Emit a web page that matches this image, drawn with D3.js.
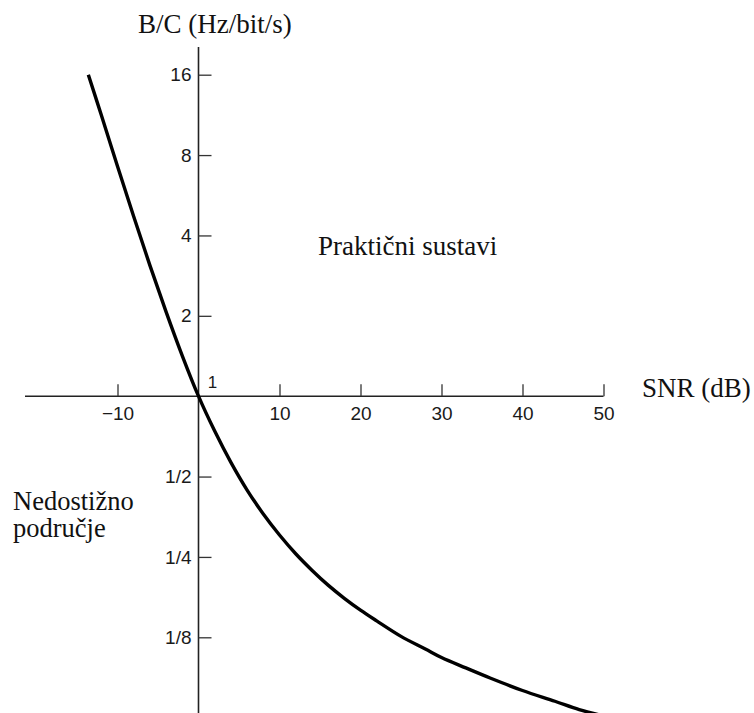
<!DOCTYPE html>
<html>
<head>
<meta charset="utf-8">
<script src="https://cdn.jsdelivr.net/npm/d3@7"></script>
<style>
  html, body { margin: 0; padding: 0; background: #fff; }
  svg { display: block; }
</style>
</head>
<body>
<svg id="chart" width="754" height="713"></svg>
<script>
// Data
const snrDb = [-13.6, -12, -10, -8, -6, -4, -2, 0, 2, 4, 6, 8, 10, 12, 14, 16, 18, 20, 22, 25, 28, 30, 33, 36, 40, 44, 47, 49.5];
const bandwidthRatio = [16, 11.3, 7.27, 4.71, 3.09, 2.07, 1.417, 1, 0.74, 0.565, 0.445, 0.362, 0.302, 0.257, 0.223, 0.196, 0.175, 0.158, 0.144, 0.126, 0.113, 0.105, 0.096, 0.088, 0.079, 0.072, 0.067, 0.064];
const xTicks = [-10, 10, 20, 30, 40, 50];
const yTicks = [1/8, 1/4, 1/2, 2, 4, 8, 16];
const yTickLabels = ["1/8", "1/4", "1/2", "2", "4", "8", "16"];
const yAxisTitle = "B/C (Hz/bit/s)";
const xAxisTitle = "SNR (dB)";
const regionAbove = "Praktični sustavi";
const regionBelow = ["Nedostižno", "područje"];

const svg = d3.select("#chart");
const x = d3.scaleLinear().domain([0, 50]).range([198.5, 603.5]);
const y = d3.scaleLog().base(2).domain([1/8, 16]).range([637.3, 74.7]);
const y1 = y(1);
const x0 = x(0);

const sans = "'Liberation Sans', Arial, Helvetica, sans-serif";
const serif = "'Liberation Serif', 'Times New Roman', serif";

// Axis lines
svg.append("line").attr("x1", 25).attr("x2", x(50)).attr("y1", y1).attr("y2", y1)
  .attr("stroke", "#222").attr("stroke-width", 1.6);
svg.append("line").attr("x1", x0).attr("x2", x0).attr("y1", 47).attr("y2", 713)
  .attr("stroke", "#222").attr("stroke-width", 1.6);

// X axis (ticks up, labels below)
const xAxis = d3.axisBottom(x).tickValues(xTicks).tickSize(-12).tickPadding(10)
  .tickFormat(d3.format("d"));
const gx = svg.append("g").attr("transform", `translate(0,${y1})`).call(xAxis);
gx.select(".domain").remove();
gx.selectAll(".tick line").attr("stroke", "#333").attr("stroke-width", 1.3);
gx.selectAll(".tick text").attr("font-family", sans).attr("font-size", 19).attr("fill", "#1a1a1a");

// Y axis (ticks right, labels left)
const yAxis = d3.axisLeft(y).tickValues(yTicks).tickSize(-13).tickPadding(7)
  .tickFormat((d, i) => yTickLabels[i]);
const gy = svg.append("g").attr("transform", `translate(${x0},0)`).call(yAxis);
gy.select(".domain").remove();
gy.selectAll(".tick line").attr("stroke", "#333").attr("stroke-width", 1.3);
gy.selectAll(".tick text").attr("font-family", sans).attr("font-size", 19).attr("fill", "#1a1a1a");

// "1" label at origin
svg.append("text").attr("x", x0 + 14).attr("y", y1 - 8).attr("text-anchor", "middle")
  .attr("font-family", sans).attr("font-size", 17).attr("fill", "#1a1a1a").text("1");

// Curve
const line = d3.line()
  .x((d, i) => x(snrDb[i]))
  .y((d, i) => y(bandwidthRatio[i]))
  .curve(d3.curveCatmullRom.alpha(0.5));
svg.append("path").datum(snrDb).attr("d", line)
  .attr("fill", "none").attr("stroke", "#000").attr("stroke-width", 3.4)
  .attr("stroke-linejoin", "round");

// Titles and region labels
svg.append("text").attr("x", 138).attr("y", 33).attr("font-family", serif)
  .attr("font-size", 27).attr("fill", "#111").text(yAxisTitle);
svg.append("text").attr("x", 642).attr("y", 397).attr("font-family", serif)
  .attr("font-size", 27).attr("fill", "#111").text(xAxisTitle);
svg.append("text").attr("x", 318).attr("y", 255).attr("font-family", serif)
  .attr("font-size", 27).attr("fill", "#111").text(regionAbove);
regionBelow.forEach((t, i) => {
  svg.append("text").attr("x", 13).attr("y", 510 + i * 27).attr("font-family", serif)
    .attr("font-size", 26.5).attr("fill", "#111").text(t);
});
</script>
</body>
</html>
